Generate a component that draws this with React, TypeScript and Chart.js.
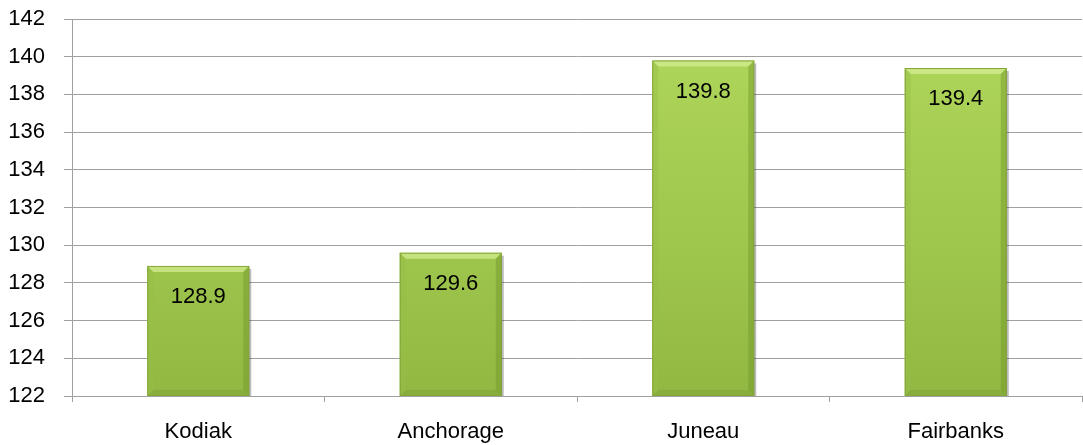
import React, { useEffect, useRef } from "react";
import { Chart, registerables } from "chart.js";

Chart.register(...registerables);

const categories: string[] = ["Kodiak", "Anchorage", "Juneau", "Fairbanks"];
const values: number[] = [128.9, 129.6, 139.8, 139.4];
const valueLabels: string[] = ["128.9", "129.6", "139.8", "139.4"];
const yMin = 122;
const yMax = 142;
const yStep = 2;

const FONT = "'Liberation Sans', Arial, sans-serif";

const barDecor = {
  id: "barDecor",
  afterDatasetsDraw(chart: any) {
    const ctx = chart.ctx;
    const area = chart.chartArea;
    const meta = chart.getDatasetMeta(0);
    meta.data.forEach((bar: any, i: number) => {
      const left = bar.x - bar.width / 2;
      const right = bar.x + bar.width / 2;
      const top = bar.y;
      const bottom = Math.min(bar.base, area.bottom);
      const b = 6;
      ctx.save();
      // top bevel (light)
      ctx.fillStyle = "rgba(215,240,150,0.7)";
      ctx.beginPath();
      ctx.moveTo(left, top);
      ctx.lineTo(right, top);
      ctx.lineTo(right - b, top + b);
      ctx.lineTo(left + b, top + b);
      ctx.closePath();
      ctx.fill();
      // left bevel
      ctx.fillStyle = "rgba(150,190,70,0.45)";
      ctx.beginPath();
      ctx.moveTo(left, top);
      ctx.lineTo(left + b, top + b);
      ctx.lineTo(left + b, bottom - b);
      ctx.lineTo(left, bottom);
      ctx.closePath();
      ctx.fill();
      // right bevel
      ctx.fillStyle = "rgba(110,150,40,0.45)";
      ctx.beginPath();
      ctx.moveTo(right, top);
      ctx.lineTo(right - b, top + b);
      ctx.lineTo(right - b, bottom - b);
      ctx.lineTo(right, bottom);
      ctx.closePath();
      ctx.fill();
      // bottom bevel
      ctx.fillStyle = "rgba(110,150,45,0.3)";
      ctx.beginPath();
      ctx.moveTo(left, bottom);
      ctx.lineTo(left + b, bottom - b);
      ctx.lineTo(right - b, bottom - b);
      ctx.lineTo(right, bottom);
      ctx.closePath();
      ctx.fill();
      // outline
      ctx.strokeStyle = "#84a63a";
      ctx.lineWidth = 1;
      ctx.strokeRect(left + 0.5, top + 0.5, right - left - 1, bottom - top - 1);
      // shadow on right
      ctx.fillStyle = "rgba(60,60,60,0.35)";
      ctx.fillRect(right, top + 3, 2, bottom - top - 3);
      // label
      ctx.fillStyle = "#000";
      ctx.font = `22px ${FONT}`;
      ctx.textAlign = "center";
      ctx.textBaseline = "middle";
      ctx.fillText(valueLabels[i], bar.x, top + 31);
      ctx.restore();
    });
  },
};

export default function App() {
  const ref = useRef<HTMLCanvasElement | null>(null);
  useEffect(() => {
    document.body.style.margin = "0";
    const canvas = ref.current!;
    const chart = new Chart(canvas, {
      type: "bar",
      data: {
        labels: categories,
        datasets: [
          {
            data: values,
            backgroundColor: (c: any) => {
              const { chart: ch } = c;
              const area = ch.chartArea;
              if (!area) return "#9fc74d";
              const g = ch.ctx.createLinearGradient(0, area.top, 0, area.bottom);
              g.addColorStop(0, "#b0d85c");
              g.addColorStop(0.5, "#a2c94f");
              g.addColorStop(1, "#92b843");
              return g;
            },
            borderWidth: 0,
            barPercentage: 0.404,
            categoryPercentage: 1,
          },
        ],
      },
      options: {
        responsive: false,
        animation: false,
        layout: { padding: { top: 19, right: 1, left: 0, bottom: 0 } },
        plugins: {
          legend: { display: false },
          tooltip: { enabled: false },
        },
        scales: {
          y: {
            min: yMin,
            max: yMax,
            ticks: {
              stepSize: yStep,
              color: "#000",
              font: { family: FONT, size: 22 },
              padding: 19,
            },
            grid: {
              color: "#a0a0a0",
              lineWidth: 1,
              tickLength: 8,
              drawTicks: true,
            },
            border: { color: "#a0a0a0", width: 1 },
            afterFit: (s: any) => {
              s.width = 72;
              s.paddingTop = 0;
              s.paddingBottom = 0;
            },
          },
          x: {
            ticks: {
              color: "#000",
              font: { family: FONT, size: 22 },
              padding: 17,
            },
            grid: {
              drawOnChartArea: false,
              drawTicks: true,
              tickLength: 6,
              color: "#a0a0a0",
              offset: true,
            },
            border: { color: "#a0a0a0", width: 1 },
            afterFit: (s: any) => {
              s.height = 49;
              s.paddingLeft = 0;
              s.paddingRight = 0;
            },
          },
        },
      },
      plugins: [barDecor],
    });
    return () => chart.destroy();
  }, []);
  return <canvas ref={ref} width={1083} height={445} style={{ display: "block" }} />;
}
